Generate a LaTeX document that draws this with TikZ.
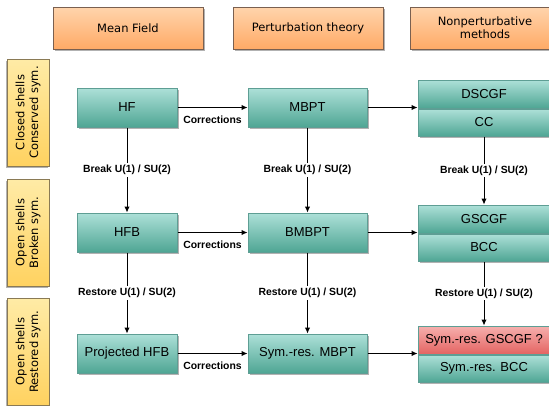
\documentclass[tikz,border=0pt]{standalone}
\usepackage{fontspec}
\setmainfont{Liberation Sans}
\newfontfamily\headfont{DejaVu Sans}
\usepackage{tikz}
\usetikzlibrary{positioning,shadows,arrows.meta}
\definecolor{orangetop}{HTML}{FFD4AC}
\definecolor{orangebot}{HTML}{FFAA66}
\definecolor{orangeline}{HTML}{7A6050}
\definecolor{yellowtop}{HTML}{FFEBA6}
\definecolor{yellowbot}{HTML}{FFD260}
\definecolor{yellowline}{HTML}{8A7A55}
\definecolor{greentop}{HTML}{ADE0D8}
\definecolor{greenbot}{HTML}{4FA694}
\definecolor{greenline}{HTML}{5E9E94}
\definecolor{redtop}{HTML}{F6B0AE}
\definecolor{redbot}{HTML}{E46462}
\tikzset{boxshadow/.style = {drop shadow={shadow xshift=1.5pt, shadow yshift=-1.5pt, fill=black, opacity=0.3}}}
\tikzset{header/.style = {draw=orangeline, top color=orangetop, bottom color=orangebot, boxshadow,
    minimum width=150pt, minimum height=42pt, align=center, font=\headfont\fontsize{11.5}{13.3}\selectfont}}
\tikzset{side/.style = {draw=yellowline, top color=yellowtop, bottom color=yellowbot, rotate=90,
    drop shadow={shadow xshift=-1.5pt, shadow yshift=-1.5pt, fill=black, opacity=0.3},
    minimum width=107pt, minimum height=42pt, align=center, font=\headfont\fontsize{11.5}{13.7}\selectfont}}
\tikzset{method/.style = {draw=greenline, top color=greentop, bottom color=greenbot, boxshadow,
    minimum height=39pt, font=\fontsize{13}{15}\selectfont}}
\tikzset{methodred/.style = {method, top color=redtop, bottom color=redbot}}
\tikzset{arrowtext/.style = {fill=white, inner sep=2pt, font=\bfseries\fontsize{10.4}{12}\selectfont}}

\begin{document}
\begin{tikzpicture}[x=1pt, y=-1pt, >={Latex[length=6pt,width=5.5pt]}, line width=1pt]
  \useasboundingbox (0,0) rectangle (549,405);
  \clip (0,0) rectangle (549,405);

  % column headers
  \node [header] (mf) at (128,28) {Mean Field};
  \node [header, right=29pt of mf] (pt) {Perturbation theory};
  \node [header, right=26pt of pt] (np) {Nonperturbative\\methods};

  % row headers
  \node [side] (cs) at (28,112.5) {Closed shells\\Conserved sym.};
  \node [side] (os) at (28,232.5) {Open shells\\Broken sym.};
  \node [side] (rs) at (28,351.5) {Open shells\\Restored sym.};

  % closed shells
  \node [method, minimum width=100pt] (hf) at (127,107.5) {HF};
  \node [method, minimum width=119pt, right=70pt of hf] (mbpt) {MBPT};
  \node [method, minimum width=132pt, minimum height=28pt, right=50pt of mbpt, yshift=13.5pt] (dscgf) {DSCGF};
  \node [method, minimum width=132pt, minimum height=27pt, below=0pt of dscgf] (cc) {CC};

  % broken symmetry
  \node [method, minimum width=100pt, below=85pt of hf] (hfb) {HFB};
  \node [method, minimum width=119pt, below=85pt of mbpt] (bmbpt) {BMBPT};
  \node [method, minimum width=132pt, minimum height=28pt, right=50pt of bmbpt, yshift=13.5pt] (gscgf) {GSCGF};
  \node [method, minimum width=132pt, minimum height=27pt, below=0pt of gscgf] (bcc) {BCC};

  % restored symmetry
  \node [method, minimum width=100pt, below=81pt of hfb] (phfb) {Projected HFB};
  \node [method, minimum width=119pt, below=81pt of bmbpt] (srmbpt) {Sym.-res. MBPT};
  \node [methodred, minimum width=132pt, minimum height=28pt, right=50pt of srmbpt, yshift=13.5pt] (srgscgf) {Sym.-res. GSCGF ?};
  \node [method, minimum width=132pt, minimum height=27pt, below=0pt of srgscgf] (srbcc) {Sym.-res. BCC};

  \draw[->] (hf) -- node [arrowtext, fill=none, below=6pt] {Corrections} (mbpt);
  \draw[->] (hfb) -- node [arrowtext, fill=none, below=6pt] {Corrections} (bmbpt);
  \draw[->] (phfb) -- node [arrowtext, fill=none, below=6pt] {Corrections} (srmbpt);

  \draw[->] (mbpt.east) -- (mbpt.east -| dscgf.west);
  \draw[->] (bmbpt.east) -- (bmbpt.east -| gscgf.west);
  \draw[->] (srmbpt.east) -- (srmbpt.east -| srgscgf.west);

  \draw[->] (hf) -- node [arrowtext] {Break U(1) / SU(2)} (hfb);
  \draw[->] (mbpt) -- node [arrowtext] {Break U(1) / SU(2)} (bmbpt);
  \draw[->] (cc) -- node [arrowtext] {Break U(1) / SU(2)} (gscgf);

  \draw[->] (hfb) -- node [arrowtext] {Restore U(1) / SU(2)} (phfb);
  \draw[->] (bmbpt) -- node [arrowtext] {Restore U(1) / SU(2)} (srmbpt);
  \draw[->] (bcc) -- node [arrowtext] {Restore U(1) / SU(2)} (srgscgf);
\end{tikzpicture}
\end{document}
